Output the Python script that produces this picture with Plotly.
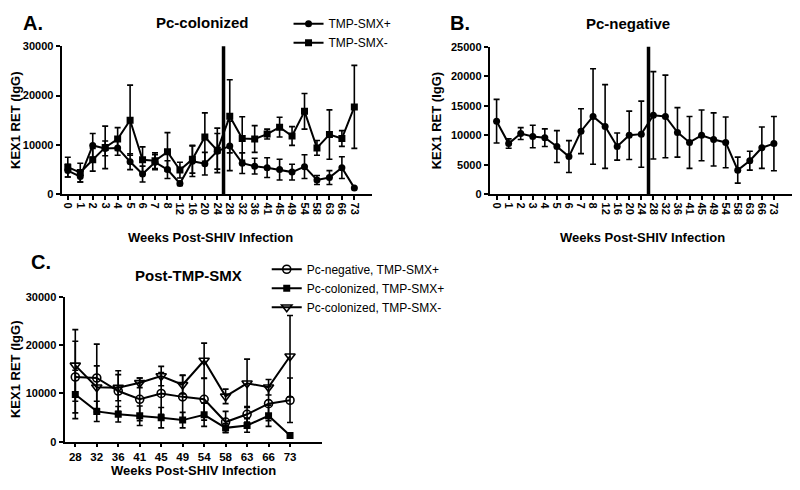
import plotly.graph_objects as go

weeks = ["0", "1", "2", "3", "4", "5", "6", "7", "8", "12", "16", "20", "24",
         "28", "32", "36", "41", "45", "49", "54", "58", "63", "66", "73"]
post_weeks = weeks[13:]

# Panel A: Pc-colonized
col_pos_mean = [4800, 3600, 9900, 9300, 9400, 6600, 4100, 6500, 5000, 2200, 6700, 6200, 8700,
                9800, 6300, 5700, 5400, 5000, 4500, 5600, 2900, 3400, 5400, 1300]
col_pos_sd = [1300, 1100, 2400, 1500, 1500, 1600, 1600, 1500, 1800, 400, 3100, 2300, 3600,
              5000, 2100, 1600, 2000, 2100, 1600, 2400, 900, 1400, 2200, 0]
col_neg_mean = [5500, 4400, 7000, 9500, 11200, 15000, 7000, 6800, 8600, 4900, 7100, 11600, 8900,
                15800, 11300, 11200, 12200, 13600, 11800, 16800, 9400, 12100, 11300, 17700]
col_neg_sd = [2000, 1900, 2300, 4300, 2300, 7100, 2600, 1600, 3900, 1600, 2800, 4900, 4500,
              7400, 4400, 2700, 1000, 2000, 1900, 3600, 1500, 5000, 1600, 8400]

# Panel B: Pc-negative
neg_mean = [12400, 8600, 10300, 9800, 9600, 8100, 6400, 10700, 13200, 11500, 8100, 10000, 10200,
            13400, 13200, 10500, 8800, 10000, 9300, 8800, 4100, 5700, 7900, 8600]
neg_sd = [3700, 800, 1000, 1900, 1500, 2700, 2700, 3800, 8100, 7100, 2300, 4100, 5600,
          7400, 7000, 4200, 4400, 4300, 4500, 4300, 2200, 1600, 3500, 4600]

black = "#000000"
font = "Arial, Liberation Sans, sans-serif"

# page body has an 8px margin, so the figure is 784x474 placed at (8, 8)
W, H, OFF = 784, 474, 8


def px(x):
    return min(max((x - OFF) / W, 0), 1)


def py(y):
    return min(max(1 - (y - OFF) / H, 0), 1)


def err(sd):
    return dict(type="data", array=sd, visible=True, color=black, thickness=1.6, width=3)


fig = go.Figure()

# A
fig.add_trace(go.Scatter(x=weeks, y=col_pos_mean, error_y=err(col_pos_sd), mode="lines+markers",
                         name="TMP-SMX+", line=dict(color=black, width=2),
                         marker=dict(symbol="circle", size=7, color=black),
                         xaxis="x", yaxis="y", legend="legend"))
fig.add_trace(go.Scatter(x=weeks, y=col_neg_mean, error_y=err(col_neg_sd), mode="lines+markers",
                         name="TMP-SMX-", line=dict(color=black, width=2),
                         marker=dict(symbol="square", size=7, color=black),
                         xaxis="x", yaxis="y", legend="legend"))

# B
fig.add_trace(go.Scatter(x=weeks, y=neg_mean, error_y=err(neg_sd), mode="lines+markers",
                         showlegend=False, line=dict(color=black, width=2),
                         marker=dict(symbol="circle", size=7, color=black),
                         xaxis="x2", yaxis="y2"))

# C
fig.add_trace(go.Scatter(x=post_weeks, y=neg_mean[13:], error_y=err(neg_sd[13:]),
                         mode="lines+markers", name="Pc-negative, TMP-SMX+",
                         line=dict(color=black, width=2),
                         marker=dict(symbol="circle-open", size=8, color=black, line=dict(width=1.6)),
                         xaxis="x3", yaxis="y3", legend="legend2"))
fig.add_trace(go.Scatter(x=post_weeks, y=col_pos_mean[13:], error_y=err(col_pos_sd[13:]),
                         mode="lines+markers", name="Pc-colonized, TMP-SMX+",
                         line=dict(color=black, width=2),
                         marker=dict(symbol="square", size=7, color=black),
                         xaxis="x3", yaxis="y3", legend="legend2"))
fig.add_trace(go.Scatter(x=post_weeks, y=col_neg_mean[13:], error_y=err(col_neg_sd[13:]),
                         mode="lines+markers", name="Pc-colonized, TMP-SMX-",
                         line=dict(color=black, width=2),
                         marker=dict(symbol="triangle-down-open", size=9, color=black, line=dict(width=1.6)),
                         xaxis="x3", yaxis="y3", legend="legend2"))

xcommon = dict(type="category", showline=True, linecolor=black, linewidth=2, ticks="outside",
               ticklen=4, tickwidth=1.5, tickcolor=black, showgrid=False, zeroline=False,
               tickfont=dict(family=font, size=11, color=black, weight="bold"))
ycommon = dict(showline=True, linecolor=black, linewidth=2, ticks="outside", ticklen=4,
               tickwidth=1.5, tickcolor=black, showgrid=False, zeroline=False, tickformat="d",
               tickfont=dict(family=font, size=11, color=black, weight="bold"),
               title=dict(text="KEX1 RET (IgG)", standoff=6,
                          font=dict(family=font, size=13, color=black, weight="bold")))

fig.update_layout(
    width=W, height=H,
    paper_bgcolor="white", plot_bgcolor="white",
    margin=dict(l=0, r=0, t=0, b=0),
    font=dict(family=font, color=black),
    xaxis=dict(xcommon, domain=[px(55), px(368)], anchor="y", range=[-0.5, 24.4],
               tickmode="array", tickvals=weeks, ticktext=weeks, tickangle=90),
    yaxis=dict(ycommon, domain=[py(193), py(41)], anchor="x", range=[0, 30000],
               tickvals=[0, 10000, 20000, 30000]),
    xaxis2=dict(xcommon, domain=[px(487), px(797)], anchor="y2", range=[-0.57, 24.5],
                tickmode="array", tickvals=weeks, ticktext=weeks, tickangle=90),
    yaxis2=dict(ycommon, domain=[py(193), py(41.7)], anchor="x2", range=[0, 25000],
                tickvals=[0, 5000, 10000, 15000, 20000, 25000]),
    xaxis3=dict(xcommon, domain=[px(58), px(318)], anchor="y3", range=[-0.5, 11.5], tickangle=0,
                ticklen=3, tickfont=dict(family=font, size=11.5, color=black, weight="bold")),
    yaxis3=dict(ycommon, domain=[py(447), py(298)], anchor="x3", range=[0, 30000],
                tickvals=[0, 10000, 20000, 30000]),
    legend=dict(x=px(284), y=1 - (3 - OFF) / H, xanchor="left", yanchor="top",
                bgcolor="rgba(0,0,0,0)",
                font=dict(family=font, size=12, color=black), tracegroupgap=0, itemwidth=30),
    legend2=dict(x=px(262), y=py(255), xanchor="left", yanchor="top", bgcolor="rgba(0,0,0,0)",
                 font=dict(family=font, size=12, color=black), tracegroupgap=0, itemwidth=30),
)

# Vertical marker line between week 24 and 28
fig.add_shape(type="line", xref="x", yref="y", x0=12.5, x1=12.5, y0=0, y1=32400,
              line=dict(color=black, width=3.5))
fig.add_shape(type="line", xref="x2", yref="y2", x0=12.6, x1=12.6, y0=0, y1=26100,
              line=dict(color=black, width=3.5))


def label(text, x, y, size, anchor="center"):
    fig.add_annotation(text=text, x=px(x), y=py(y), xref="paper", yref="paper",
                       showarrow=False, xanchor=anchor, yanchor="middle",
                       font=dict(family=font, size=size, color=black, weight="bold"))


label("A.", 14, 17, 20, "left")
label("Pc-colonized", 197, 17, 15)
label("B.", 445, 17, 20, "left")
label("Pc-negative", 627, 18, 15)
label("C.", 22, 262, 20, "left")
label("Post-TMP-SMX", 183, 276, 15)
label("Weeks Post-SHIV Infection", 205, 237, 13)
label("Weeks Post-SHIV Infection", 641, 237, 13)
label("Weeks Post-SHIV Infection", 188, 476, 13)

fig.write_html("out.html")
